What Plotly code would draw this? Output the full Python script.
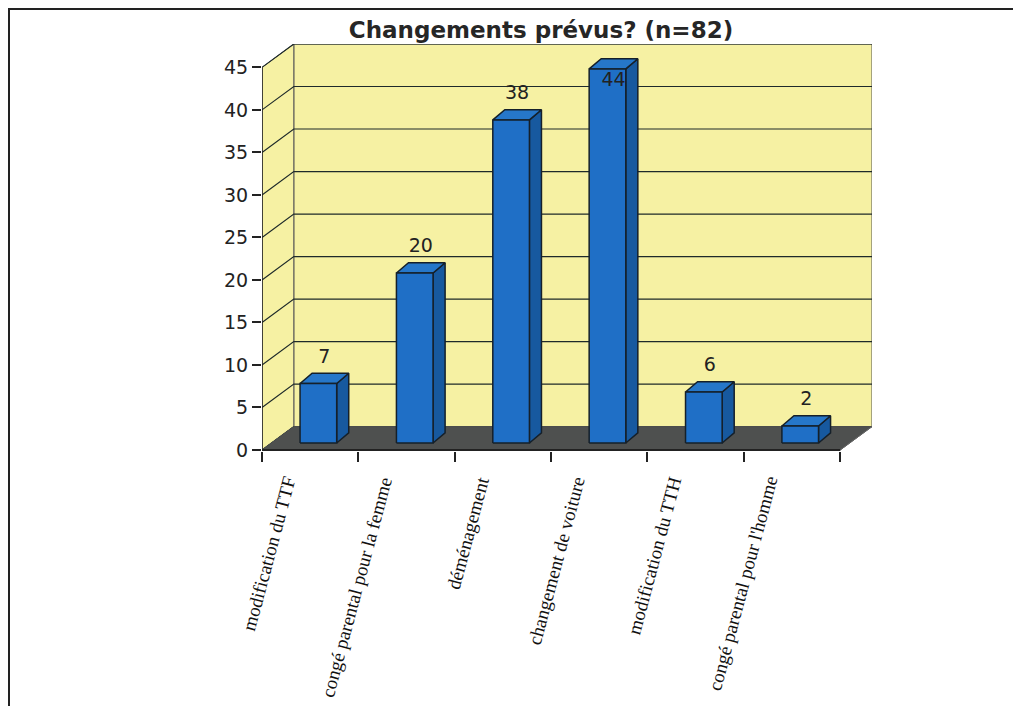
import plotly.graph_objects as go

# data
categories = ["modification du TTF", "congé parental pour la femme", "déménagement",
              "changement de voiture", "modification du TTH", "congé parental pour l'homme"]
values = [7, 20, 38, 44, 6, 2]
y_ticks = [0, 5, 10, 15, 20, 25, 30, 35, 40, 45]
title = "Changements prévus? (n=82)"

# 3d look (in axis units)
DX, DY = 0.33, 2.75          # depth of floor / walls
BX, BY = 0.125, 1.2          # depth of a bar
B0 = 0.82                    # bar base (sits inside the floor)
OFF, HW = 0.085, 0.19        # bar front-face offset and half width

WALL = "#f6f1a3"
FLOOR = "#4e504f"
EDGE = "#1e2a2a"
FRONT = "#1f6fc6"
SIDE = "#17599f"
TOP = "#2677c9"

# page has an 8px body margin, so the figure is laid out in its own coords
W, H = 1013, 698
L, R, T, B = 254, 149, 36, 255
PW, PH = W - L - R, H - T - B

n = len(categories)
xl, xr = -0.5, n - 0.5
ymax = max(y_ticks)

fig = go.Figure()

def poly(xs, ys, fill, line_color=EDGE, width=1):
    fig.add_trace(go.Scatter(x=xs, y=ys, fill="toself", fillcolor=fill, mode="lines",
                             line=dict(color=line_color, width=width),
                             hoverinfo="skip", showlegend=False))

def seg(xs, ys, color=EDGE, width=1.2):
    fig.add_trace(go.Scatter(x=xs, y=ys, mode="lines", line=dict(color=color, width=width),
                             hoverinfo="skip", showlegend=False))

# walls
poly([xl + DX, xr + DX, xr + DX, xl + DX, xl + DX], [DY, DY, ymax + DY, ymax + DY, DY], WALL, "#555", 1)
poly([xl, xl + DX, xl + DX, xl, xl], [0, DY, ymax + DY, ymax, 0], WALL, "#555", 1)

# gridlines on side + back wall
gx, gy = [], []
for v in y_ticks:
    gx += [xl, xl + DX, xr + DX, None]
    gy += [v, v + DY, v + DY, None]
seg(gx, gy)

# floor
poly([xl, xr, xr + DX, xl + DX, xl], [0, 0, DY, DY, 0], FLOOR, FLOOR, 1)
seg([xr, xr + DX], [0, DY], "#666", 1)

# bars
fx, fy, sx, sy, tx, ty = [], [], [], [], [], []
for i, v in enumerate(values):
    a, b = i + OFF - HW, i + OFF + HW
    top = B0 + v
    fx += [a, b, b, a, a, None]
    fy += [B0, B0, top, top, B0, None]
    sx += [b, b + BX, b + BX, b, b, None]
    sy += [B0, B0 + BY, top + BY, top, B0, None]
    tx += [a, b, b + BX, a + BX, a, None]
    ty += [top, top, top + BY, top + BY, top, None]
poly(sx, sy, SIDE, "#15202a", 1.5)
poly(tx, ty, TOP, "#15202a", 1.5)
poly(fx, fy, FRONT, "#15202a", 1.5)

# front axis lines
seg([xl, xl], [0, ymax], "#222", 1.5)
seg([xl, xr], [0, 0], "#222", 2)

# value labels
fig.add_trace(go.Scatter(
    x=[i + OFF + BX / 2 for i in range(n)],
    y=[min(v + 3.8, ymax - 1.6) for v in values],
    text=[str(v) for v in values], mode="text",
    textfont=dict(family="DejaVu Sans", size=19, color="#222"),
    cliponaxis=False, hoverinfo="skip", showlegend=False))

# category labels, rotated, end of text just under the axis
for i, c in enumerate(categories):
    fig.add_annotation(x=i - 0.08, y=-21 / PH, xref="x", yref="paper", text=c,
                       textangle=-75, xanchor="right", yanchor="top", showarrow=False,
                       font=dict(family="Liberation Serif, Times New Roman", size=19, color="#111"))

fig.update_layout(
    width=W, height=H,
    margin=dict(l=L, r=R, t=T, b=B),
    paper_bgcolor="white", plot_bgcolor="white",
    title=dict(text="<b>" + title + "</b>", x=533 / W, xanchor="center",
               y=1 - 22 / H, yanchor="middle", xref="container", yref="container",
               font=dict(family="DejaVu Sans", size=23, color="#262626")),
    xaxis=dict(range=[xl, xr + DX], tickvals=[k - 0.5 for k in range(n + 1)],
               showticklabels=False, ticks="outside", ticklen=10, tickwidth=1.5,
               tickcolor="#222", showgrid=False, zeroline=False, showline=False),
    yaxis=dict(range=[-0.12, ymax + DY], tickvals=y_ticks, ticks="outside", ticklen=9,
               tickwidth=1.5, tickcolor="#222", showgrid=False, zeroline=False,
               showline=False,
               tickfont=dict(family="DejaVu Sans", size=19, color="#222")),
    shapes=[dict(type="rect", xref="paper", yref="paper",
                 x0=(1 - L) / PW, x1=(1011 - L) / PW,
                 y0=(H - B - 720) / PH, y1=(H - B - 1) / PH,
                 line=dict(color="#222", width=2), layer="below")],
)

fig.write_html("out.html")
